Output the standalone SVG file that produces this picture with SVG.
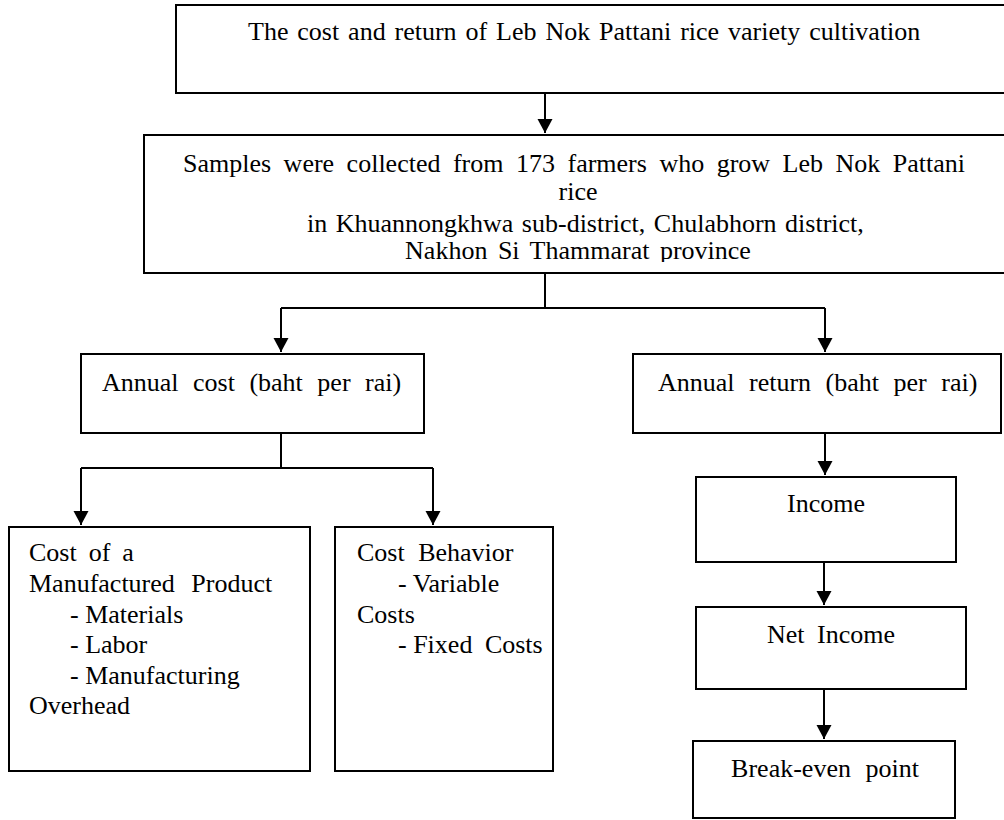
<svg xmlns="http://www.w3.org/2000/svg" width="1004" height="820" viewBox="0 0 1004 820">
<style>
.box{fill:#fff;stroke:#000;stroke-width:2}
.t{font-family:"Liberation Serif","Times New Roman","DejaVu Serif",serif;font-size:26px;fill:#000}
.m{text-anchor:middle}
.c{fill:none;stroke:#000;stroke-width:2}
</style>
<defs>
<marker id="arr" markerUnits="userSpaceOnUse" markerWidth="16" markerHeight="16" refX="14" refY="7.5" orient="auto">
<path d="M0,0 L14,7.5 L0,15 z" fill="#000"/>
</marker>
<clipPath id="clipS"><rect x="144" y="135" width="870" height="127"/></clipPath>
</defs>
<rect width="1004" height="820" fill="#fff"/>
<g id="connectors">
<path class="c" d="M545,93 V133" marker-end="url(#arr)"/>
<path class="c" d="M545,273 V308"/>
<path class="c" d="M281,308 H825"/>
<path class="c" d="M281,308 V352" marker-end="url(#arr)"/>
<path class="c" d="M825,308 V352" marker-end="url(#arr)"/>
<path class="c" d="M281,433 V468"/>
<path class="c" d="M81,468 H433"/>
<path class="c" d="M81,468 V525" marker-end="url(#arr)"/>
<path class="c" d="M433,468 V525" marker-end="url(#arr)"/>
<path class="c" d="M825,433 V475" marker-end="url(#arr)"/>
<path class="c" d="M824,562 V605" marker-end="url(#arr)"/>
<path class="c" d="M824,689 V739" marker-end="url(#arr)"/>
</g>
<g id="title">
<rect class="box" x="176" y="5" width="840" height="88"/>
<text class="t" x="248" y="40" word-spacing="2.4">The cost and return of Leb Nok Pattani rice variety cultivation</text>
</g>
<g id="samples">
<rect class="box" x="144" y="135" width="870" height="138"/>
<g clip-path="url(#clipS)">
<text class="t" x="183" y="172" word-spacing="6">Samples were collected from 173 farmers who grow Leb Nok Pattani</text>
<text class="t m" x="578" y="200">rice</text>
<text class="t" x="307" y="232" word-spacing="2">in Khuannongkhwa sub-district, Chulabhorn district,</text>
<text class="t m" x="578" y="259" word-spacing="4">Nakhon Si Thammarat province</text>
</g>
</g>
<g id="annual-cost">
<rect class="box" x="81" y="354" width="343" height="79"/>
<text class="t" x="102" y="391" word-spacing="8">Annual cost (baht per rai)</text>
</g>
<g id="annual-return">
<rect class="box" x="633" y="354" width="368" height="79"/>
<text class="t" x="658" y="391" word-spacing="8">Annual return (baht per rai)</text>
</g>
<g id="cost-product">
<rect class="box" x="9" y="527" width="301" height="244"/>
<text class="t" x="29" y="561" word-spacing="5.5">Cost of a</text>
<text class="t" x="29" y="592" word-spacing="10">Manufactured Product</text>
<text class="t" x="70" y="623">- Materials</text>
<text class="t" x="70" y="653">- Labor</text>
<text class="t" x="70" y="684">- Manufacturing</text>
<text class="t" x="29" y="714">Overhead</text>
</g>
<g id="cost-behavior">
<rect class="box" x="335" y="527" width="218" height="244"/>
<text class="t" x="357" y="561" word-spacing="7">Cost Behavior</text>
<text class="t" x="398" y="592">- Variable</text>
<text class="t" x="357" y="623">Costs</text>
<text class="t" x="398" y="653">- Fixed<tspan dx="6"> Costs</tspan></text>
</g>
<g id="income">
<rect class="box" x="696" y="477" width="260" height="85"/>
<text class="t m" x="826" y="512">Income</text>
</g>
<g id="net-income">
<rect class="box" x="696" y="607" width="270" height="82"/>
<text class="t m" x="831" y="643" word-spacing="6">Net Income</text>
</g>
<g id="break-even">
<rect class="box" x="693" y="741" width="262" height="77"/>
<text class="t m" x="825" y="777" word-spacing="8">Break-even point</text>
</g>
</svg>
